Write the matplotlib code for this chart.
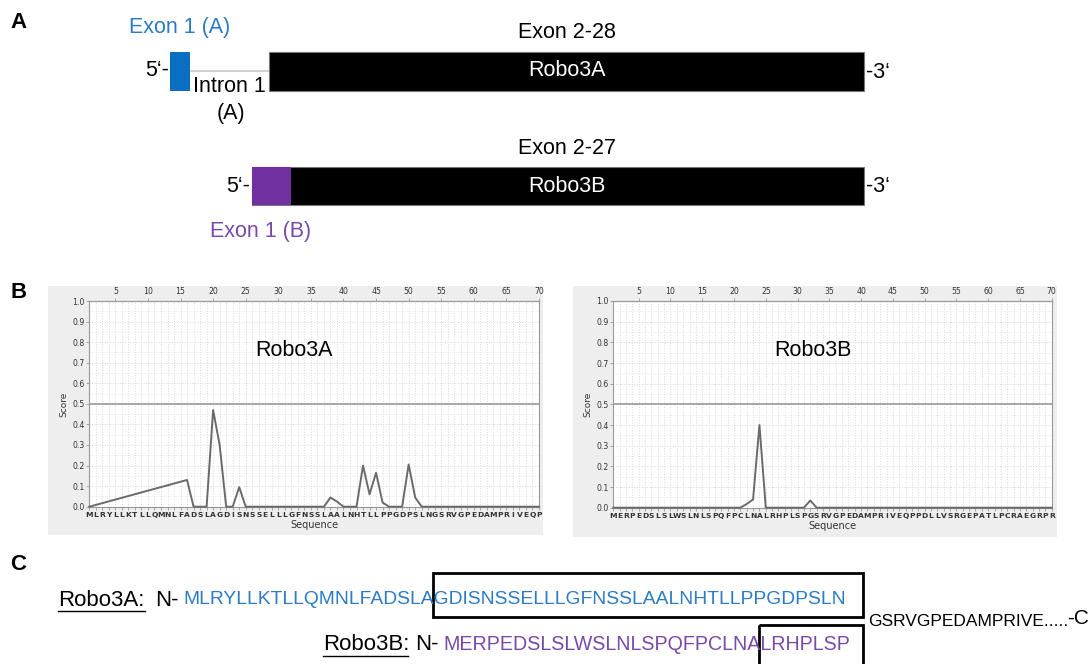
import matplotlib
matplotlib.use("Agg")
import matplotlib.pyplot as plt
from matplotlib.patches import Rectangle
import numpy as np

plt.rcParams['font.family'] = ['Liberation Sans', 'DejaVu Sans']

W, H, DPI = 1091, 664, 100

# ---- data -------------------------------------------------------------
robo3a_seq = list("MLRYLLKTLLQMNLFADSLAGDISNSSELLLGFNSSLAALNHTLLPPGDPSLNGSRVGPEDAMPRIVEQP")
robo3b_seq = list("MERPEDSLSLWSLNLSPQFPCLNALRHPLSPGSRVGPEDAMPRIVEQPPDLLVSRGEPATLPCRAEGRPR")

# Robo3A: position 1, then 16..70
robo3a_pos = [1] + list(range(16, 71))
robo3a_score = [0.0,
                0.13, 0.0, 0.0, 0.0, 0.47, 0.30, 0.0, 0.0, 0.095, 0.0,
                0.0, 0.0, 0.0, 0.0, 0.0, 0.0, 0.0, 0.0, 0.0, 0.0, 0.0, 0.0,
                0.045, 0.025, 0.0, 0.0, 0.0, 0.20, 0.06, 0.165, 0.02, 0.0,
                0.0, 0.0, 0.205, 0.045, 0.0,
                0.0, 0.0, 0.0, 0.0, 0.0, 0.0, 0.0, 0.0, 0.0, 0.0, 0.0, 0.0,
                0.0, 0.0, 0.0, 0.0, 0.0, 0.0]

robo3b_pos = list(range(1, 71))
robo3b_score = [0.0, 0.0, 0.0, 0.0, 0.0, 0.0, 0.0, 0.0, 0.0, 0.0,
                0.0, 0.0, 0.0, 0.0, 0.0, 0.0, 0.0, 0.0, 0.0, 0.0,
                0.0, 0.018, 0.04, 0.40, 0.0, 0.0, 0.0, 0.0, 0.0, 0.0,
                0.0, 0.035, 0.0, 0.0, 0.0, 0.0, 0.0, 0.0, 0.0, 0.0,
                0.0, 0.0, 0.0, 0.0, 0.0, 0.0, 0.0, 0.0, 0.0, 0.0,
                0.0, 0.0, 0.0, 0.0, 0.0, 0.0, 0.0, 0.0, 0.0, 0.0,
                0.0, 0.0, 0.0, 0.0, 0.0, 0.0, 0.0, 0.0, 0.0, 0.0]

threshold = 0.5
top_ticks = [5, 10, 15, 20, 25, 30, 35, 40, 45, 50, 55, 60, 65, 70]

seq3a_full = "MLRYLLKTLLQMNLFADSLAGDISNSSELLLGFNSSLAALNHTLLPPGDPSLN"
seq3b_full = "MERPEDSLSLWSLNLSPQFPCLNALRHPLSP"
seq_tail = "GSRVGPEDAMPRIVE....."

BLUE_BOX = '#0b6fc1'
BLUE_TXT = '#2c7bc4'
PURPLE_BOX = '#7030a0'
PURPLE_TXT = '#7a48a8'

fig = plt.figure(figsize=(W / DPI, H / DPI), dpi=DPI)
fig.patch.set_facecolor('white')

# overlay in pixel coordinates for the schematic and sequence panels
ov = fig.add_axes([0, 0, 1, 1])
ov.set_xlim(0, W)
ov.set_ylim(H, 0)
ov.axis('off')

renderer = fig.canvas.get_renderer()


def text_width(s, size, **kw):
    t = ov.text(0, 0, s, fontsize=size, **kw)
    w = t.get_window_extent(renderer).width
    t.remove()
    return w


def fitted_text(x, y, s, target, size, **kw):
    size = size * target / text_width(s, size, **kw)
    ov.text(x, y, s, fontsize=size, ha='left', va='center', **kw)
    return size


# ---- panel labels ------------------------------------------------------
for lab, yy in [('A', 22), ('B', 293), ('C', 565)]:
    ov.text(10, yy, lab, fontsize=16, fontweight='bold', ha='left', va='center')

# ---- panel A: gene structure -------------------------------------------
fs = 15.5
# Robo3A
ov.plot([190, 269], [71, 71], color='#c8c8c8', lw=1.2, zorder=1)
ov.add_patch(Rectangle((170, 52), 20, 39, facecolor=BLUE_BOX, edgecolor='none', zorder=2))
ov.add_patch(Rectangle((269, 52), 595, 39, facecolor='black', edgecolor='#777777', lw=0.8, zorder=2))
ov.text(169, 71, "5\u2018-", fontsize=fs, ha='right', va='center')
ov.text(866, 72, "-3\u2018", fontsize=fs, ha='left', va='center')
ov.text(179.5, 27, "Exon 1 (A)", fontsize=fs, color=BLUE_TXT, ha='center', va='center')
ov.text(193, 87, "Intron 1", fontsize=fs, ha='left', va='center')
ov.text(231, 114, "(A)", fontsize=fs, ha='center', va='center')
ov.text(567, 33, "Exon 2-28", fontsize=fs, ha='center', va='center')
ov.text(567, 71, "Robo3A", fontsize=fs, color='white', ha='center', va='center', zorder=3)

# Robo3B
ov.add_patch(Rectangle((252, 167), 612, 38, facecolor='black', edgecolor='#777777', lw=0.8, zorder=2))
ov.add_patch(Rectangle((252, 167), 39, 38, facecolor=PURPLE_BOX, edgecolor='none', zorder=3))
ov.text(250, 186, "5\u2018-", fontsize=fs, ha='right', va='center')
ov.text(866, 186, "-3\u2018", fontsize=fs, ha='left', va='center')
ov.text(567, 149, "Exon 2-27", fontsize=fs, ha='center', va='center')
ov.text(567, 186, "Robo3B", fontsize=fs, color='white', ha='center', va='center', zorder=4)
ov.text(261, 232, "Exon 1 (B)", fontsize=fs, color=PURPLE_TXT, ha='center', va='center')


# ---- panel B: score plots ----------------------------------------------
def px_rect(x0, y0, x1, y1):
    return [x0 / W, 1 - y1 / H, (x1 - x0) / W, (y1 - y0) / H]


def score_panel(ax_px, bg_px, seq, pos, score, name):
    x0, y0, x1, y1 = bg_px
    ov.add_patch(Rectangle((x0, y0), x1 - x0, y1 - y0, facecolor='#eeeeee',
                           edgecolor='none', zorder=0))
    ax = fig.add_axes(px_rect(*ax_px))
    ax.set_zorder(2)
    ax.set_facecolor('white')
    ax.set_xlim(1, 70)
    ax.set_ylim(0, 1)
    ax.set_xticks(np.arange(1, len(seq) + 1))
    ax.set_xticklabels(seq, fontsize=5.4, fontweight='bold', color='#333333',
                       family='DejaVu Sans')
    yt = np.round(np.arange(0, 1.01, 0.1), 1)
    ax.set_yticks(yt)
    ax.set_yticklabels([f"{v:.1f}" for v in yt], fontsize=5.6, color='#333333',
                       family='DejaVu Sans')
    ax.set_yticks(np.arange(0.05, 1, 0.1), minor=True)
    ax.grid(True, which='major', color='#d8d8d8', linestyle=':', lw=0.7)
    ax.grid(True, which='minor', axis='y', color='#e6e6e6', linestyle=':', lw=0.6)
    ax.tick_params(axis='both', which='both', length=2, width=0.5, color='#888888', pad=1.5)
    ax.tick_params(axis='y', which='minor', length=0)
    for sp in ax.spines.values():
        sp.set_color('#999999')
        sp.set_linewidth(0.8)
    sec = ax.secondary_xaxis('top')
    sec.set_xticks(top_ticks)
    sec.set_xticklabels([str(t) for t in top_ticks], fontsize=5.6, color='#333333',
                        family='DejaVu Sans')
    sec.tick_params(length=2, width=0.5, color='#888888', pad=1.5)
    sec.spines['top'].set_color('#999999')
    ax.axhline(threshold, color='#9a9a9a', lw=1.2, zorder=2)
    ax.plot(pos, score, color='#6a6a6a', lw=1.4, zorder=3, clip_on=False)
    ax.set_ylabel("Score", fontsize=6.5, color='#333333', labelpad=3, family='DejaVu Sans')
    ax.set_xlabel("Sequence", fontsize=7, color='#333333', labelpad=2, family='DejaVu Sans')
    ax.text(32.4, 0.76, name, fontsize=15.5, ha='center', va='center', zorder=4)
    return ax


score_panel((89.3, 301, 539, 506.7), (48, 286, 543, 535),
            robo3a_seq, robo3a_pos, robo3a_score, "Robo3A")
score_panel((613.3, 301, 1051.7, 507.7), (573, 286, 1057, 537),
            robo3b_seq, robo3b_pos, robo3b_score, "Robo3B")

# ---- panel C: N-terminal sequences -------------------------------------
fc = 16
row_a, row_b = 600, 645
ov.text(58, row_a, "Robo3A:", fontsize=fc, ha='left', va='center')
ov.plot([58, 145], [611, 611], color='black', lw=1.0)
ov.text(155, row_a, "N-", fontsize=fc, ha='left', va='center')
size_a = fitted_text(183, row_a, seq3a_full, 660, 13.5, color=BLUE_TXT)

ov.text(323, row_b, "Robo3B:", fontsize=fc, ha='left', va='center')
ov.plot([323, 408], [656, 656], color='black', lw=1.0)
ov.text(415, row_b, "N-", fontsize=fc, ha='left', va='center')
size_b = fitted_text(443, row_b, seq3b_full, 407, 13.5, color=PURPLE_TXT)

# boxes around the predicted regions, starting at the G (Robo3A) and L (Robo3B)
ga = 183 + text_width(seq3a_full[:20], size_a) - 1
lb = 443 + text_width(seq3b_full[:24], size_b) - 1
ov.add_patch(Rectangle((ga, 573), 863 - ga, 44, facecolor='none', edgecolor='black', lw=2.0))
ov.add_patch(Rectangle((lb, 625), 863 - lb, 50, facecolor='none', edgecolor='black', lw=2.0,
                       clip_on=False))

ov.text(868, 621, seq_tail, fontsize=12.5, ha='left', va='center')
ov.text(1089, 619, "-C", fontsize=15, ha='right', va='center')

fig.savefig("out.png", dpi=DPI)
